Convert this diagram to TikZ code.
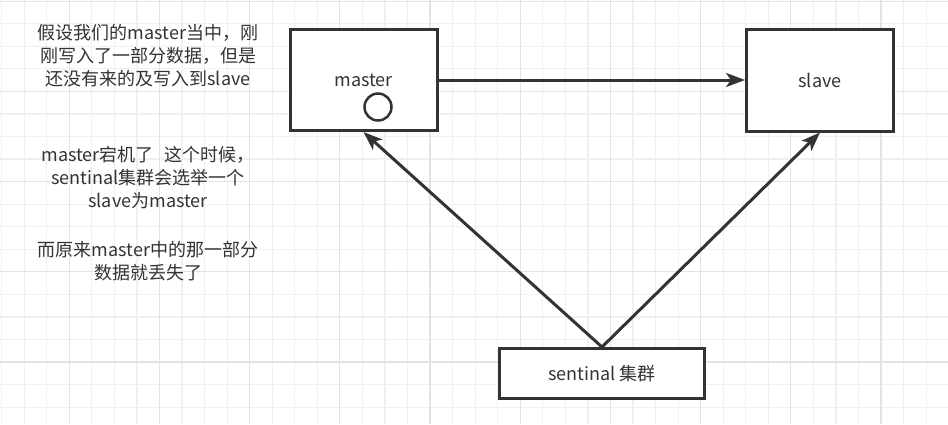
\documentclass[tikz,border=0pt]{standalone}
\usepackage{fontspec}
\newfontfamily\cjk{Noto Sans CJK SC}
\usetikzlibrary{arrows.meta}
\definecolor{ink}{HTML}{333333}
\definecolor{gridminor}{HTML}{F0F0F0}
\definecolor{gridmajor}{HTML}{E3E3E3}
\begin{document}
\begin{tikzpicture}[x=1pt,y=-1pt,
  box/.style={draw=ink, line width=3pt, fill=white, font=\cjk\fontsize{18}{22}\selectfont, text=ink, inner sep=0pt},
  arr/.style={draw=ink, line width=3pt, -{Stealth[length=19pt,width=14pt,inset=5pt]}},
  note/.style={font=\cjk\fontsize{18}{23}\selectfont, text=ink, align=center, inner sep=0pt},
  gminor/.style={draw=gridminor, line width=1.2pt},
  gmajor/.style={draw=gridmajor, line width=1.2pt}]
\useasboundingbox (0,0) rectangle (948,424);
\fill[white] (0,0) rectangle (948,424);
% grid
\foreach \i in {0,...,42} {
  \pgfmathsetmacro\xx{1.6+22.55*\i}
  \draw[gminor] (\xx,0) -- (\xx,424);
}
\foreach \j in {0,...,18} {
  \pgfmathsetmacro\yy{1.2+22.55*\j}
  \draw[gminor] (0,\yy) -- (948,\yy);
}
\foreach \i in {3,7,...,39} {
  \pgfmathsetmacro\xx{1.6+22.55*\i}
  \draw[gmajor] (\xx,0) -- (\xx,424);
}
\foreach \j in {0,4,...,16} {
  \pgfmathsetmacro\yy{1.2+22.55*\j}
  \draw[gmajor] (0,\yy) -- (948,\yy);
}
% boxes
\node[box, minimum width=147pt, minimum height=101pt] (master) at (363.5,80) {master};
\node[draw=ink, line width=2.5pt, circle, minimum size=27pt, inner sep=0pt] (dot) at (378,107) {};
\node[box, minimum width=147pt, minimum height=102pt] (slave) at (820,80) {slave};
\node[box, minimum width=205pt, minimum height=50pt] (sentinel) at (602,373.5) {sentinal 集群};
% arrows
\draw[arr] (master) -- (slave);
\draw[arr] (sentinel.north) -- (master.south);
\draw[arr] (sentinel.north) -- (slave.south);
% notes
\node[note] (n1) at (148,56) {假设我们的master当中，刚\\刚写入了一部分数据，但是\\还没有来的及写入到slave};
\node[note] (n2) at (148,214) {master宕机了\hspace{0.6em}这个时候，\\sentinal集群会选举一个\\slave为master\\[26pt]而原来master中的那一部分\\数据就丢失了};
\end{tikzpicture}
\end{document}
